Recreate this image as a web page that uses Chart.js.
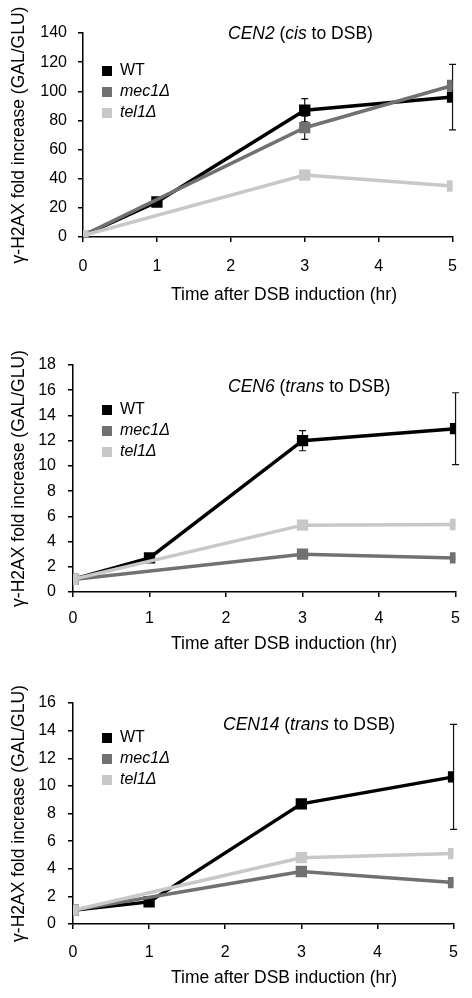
<!DOCTYPE html>
<html>
<head>
<meta charset="utf-8">
<script src="https://cdn.jsdelivr.net/npm/chart.js@4"></script>
<style>
body { margin: 0; background: #fff; }
canvas { display: block; }
</style>
</head>
<body>
<canvas id="chart1" width="472" height="330"></canvas>
<canvas id="chart2" width="472" height="330"></canvas>
<canvas id="chart3" width="472" height="338"></canvas>
<script>
const hours = [0, 1, 3, 5];
const seriesNames = ['WT', 'mec1Δ', 'tel1Δ'];
const seriesColors = ['#000000', '#717171', '#c8c8c8'];

// CEN2 (cis)
const cen2WT = [1, 24, 87, 96];
const cen2Mec1 = [1, null, 75, 104];
const cen2Tel1 = [1, null, 42.5, 35];
const cen2WTErr = [0, 1.5, 8, 22.5];
const cen2Mec1Err = [0, 0, 8, 0];
const cen2YTicks = [0, 20, 40, 60, 80, 100, 120, 140];

// CEN6 (trans)
const cen6WT = [1, 2.7, 12, 12.95];
const cen6Mec1 = [1, null, 3.0, 2.7];
const cen6Tel1 = [1, null, 5.3, 5.35];
const cen6WTErr = [0, 0.2, 0.8, 2.85];
const cen6Mec1Err = [0, 0, 0, 0];
const cen6YTicks = [0, 2, 4, 6, 8, 10, 12, 14, 16, 18];

// CEN14 (trans)
const cen14WT = [1, 1.6, 8.7, 10.65];
const cen14Mec1 = [1, null, 3.8, 3.0];
const cen14Tel1 = [1, null, 4.8, 5.1];
const cen14WTErr = [0, 0.15, 0.2, 3.8];
const cen14Mec1Err = [0, 0, 0.3, 0];
const cen14YTicks = [0, 2, 4, 6, 8, 10, 12, 14, 16];

const FONT = "'Liberation Sans', Arial, sans-serif";

function points(vals) {
    return hours.map((h, i) => ({ x: h, y: vals[i] }));
}

function makeChart(id, opts) {
    const ctx = document.getElementById(id).getContext('2d');
    const series = [opts.wt, opts.mec1, opts.tel1];
    const errs = [opts.wtErr, opts.mec1Err, null];

    const extras = {
        id: 'extras',
        beforeDatasetsDraw(chart) {
            const c = chart.ctx;
            const xs = chart.scales.x, ys = chart.scales.y;
            c.save();
            c.strokeStyle = '#111';
            c.lineWidth = 1.2;
            errs.forEach((err, s) => {
                if (!err) return;
                hours.forEach((h, i) => {
                    if (!err[i] || series[s][i] == null) return;
                    const px = xs.getPixelForValue(h);
                    const top = ys.getPixelForValue(series[s][i] + err[i]);
                    const bot = ys.getPixelForValue(series[s][i] - err[i]);
                    c.beginPath();
                    c.moveTo(px, top); c.lineTo(px, bot);
                    c.moveTo(px - 3.5, top); c.lineTo(px + 3.5, top);
                    c.moveTo(px - 3.5, bot); c.lineTo(px + 3.5, bot);
                    c.stroke();
                });
            });
            c.restore();
        },
        afterDraw(chart) {
            const c = chart.ctx;
            c.save();
            c.fillStyle = '#000';
            c.textBaseline = 'middle';
            // title with italic parts
            let x = opts.titleX;
            opts.title.forEach(([txt, it]) => {
                c.font = (it ? 'italic ' : '') + '17.5px ' + FONT;
                c.fillText(txt, x, opts.titleY);
                x += c.measureText(txt).width;
            });
            // legend
            seriesNames.forEach((name, i) => {
                const y = opts.legendY + i * 21;
                c.fillStyle = seriesColors[i];
                c.fillRect(102, y - 5, 10, 10);
                c.fillStyle = '#000';
                c.font = (i > 0 ? 'italic ' : '') + '16px ' + FONT;
                c.fillText(name, 120, y);
            });
            // x axis title
            c.font = '17.5px ' + FONT;
            c.textAlign = 'center';
            c.fillText('Time after DSB induction (hr)', 284, opts.xTitleY);
            c.restore();
        }
    };

    return new Chart(ctx, {
        type: 'line',
        data: {
            datasets: series.map((vals, i) => ({
                label: seriesNames[i],
                data: points(vals),
                borderColor: seriesColors[i],
                backgroundColor: seriesColors[i],
                borderWidth: 3.5,
                pointStyle: 'rect',
                pointRadius: 8,
                pointBorderWidth: 0,
                pointBackgroundColor: seriesColors[i],
                spanGaps: true,
                tension: 0,
                order: 3 - i
            }))
        },
        options: {
            responsive: false,
            animation: false,
            layout: {
                padding: { top: opts.top, right: opts.right, bottom: 0, left: 0 }
            },
            scales: {
                x: {
                    type: 'linear',
                    min: 0,
                    max: 5,
                    afterFit: (scale) => { scale.height = opts.xAxisHeight; },
                    grid: {
                        drawOnChartArea: false,
                        drawTicks: true,
                        tickLength: 5,
                        color: '#000',
                        lineWidth: 1.5
                    },
                    border: { display: true, color: '#000', width: 1.5 },
                    ticks: {
                        stepSize: 1,
                        padding: opts.xTickPad,
                        color: '#000',
                        font: { family: FONT, size: 16 },
                        maxRotation: 0
                    }
                },
                y: {
                    min: opts.yTicks[0],
                    max: opts.yTicks[opts.yTicks.length - 1],
                    afterFit: (scale) => { scale.width = opts.yAxisWidth; },
                    grid: {
                        drawOnChartArea: false,
                        drawTicks: true,
                        tickLength: 5,
                        color: '#000',
                        lineWidth: 1.5
                    },
                    border: { display: true, color: '#000', width: 1.5 },
                    ticks: {
                        stepSize: opts.yTicks[1] - opts.yTicks[0],
                        padding: opts.yTickPad,
                        color: '#000',
                        font: { family: FONT, size: 16 }
                    },
                    title: {
                        display: true,
                        text: 'γ-H2AX fold increase (GAL/GLU)',
                        color: '#000',
                        font: { family: FONT, size: 17.5 },
                        padding: { top: 9, bottom: 0 }
                    }
                }
            },
            plugins: {
                legend: { display: false },
                tooltip: { enabled: false }
            }
        },
        plugins: [extras]
    });
}

makeChart('chart1', {
    wt: cen2WT, mec1: cen2Mec1, tel1: cen2Tel1,
    wtErr: cen2WTErr, mec1Err: cen2Mec1Err, yTicks: cen2YTicks,
    title: [['CEN2', true], [' (', false], ['cis', true], [' to DSB)', false]],
    top: 33, right: 16, yAxisWidth: 83, xAxisHeight: 93,
    xTickPad: 15, yTickPad: 11,
    titleX: 228, titleY: 34, legendY: 71, xTitleY: 295
});

makeChart('chart2', {
    wt: cen6WT, mec1: cen6Mec1, tel1: cen6Tel1,
    wtErr: cen6WTErr, mec1Err: cen6Mec1Err, yTicks: cen6YTicks,
    title: [['CEN6', true], [' (', false], ['trans', true], [' to DSB)', false]],
    top: 35, right: 15, yAxisWidth: 73, xAxisHeight: 68,
    xTickPad: 12, yTickPad: 12,
    titleX: 228, titleY: 57, legendY: 80, xTitleY: 314
});

makeChart('chart3', {
    wt: cen14WT, mec1: cen14Mec1, tel1: cen14Tel1,
    wtErr: cen14WTErr, mec1Err: cen14Mec1Err, yTicks: cen14YTicks,
    title: [['CEN14', true], [' (', false], ['trans', true], [' to DSB)', false]],
    top: 43, right: 15, yAxisWidth: 73, xAxisHeight: 74,
    xTickPad: 14, yTickPad: 12,
    titleX: 223, titleY: 65, legendY: 78, xTitleY: 318
});
</script>
</body>
</html>
